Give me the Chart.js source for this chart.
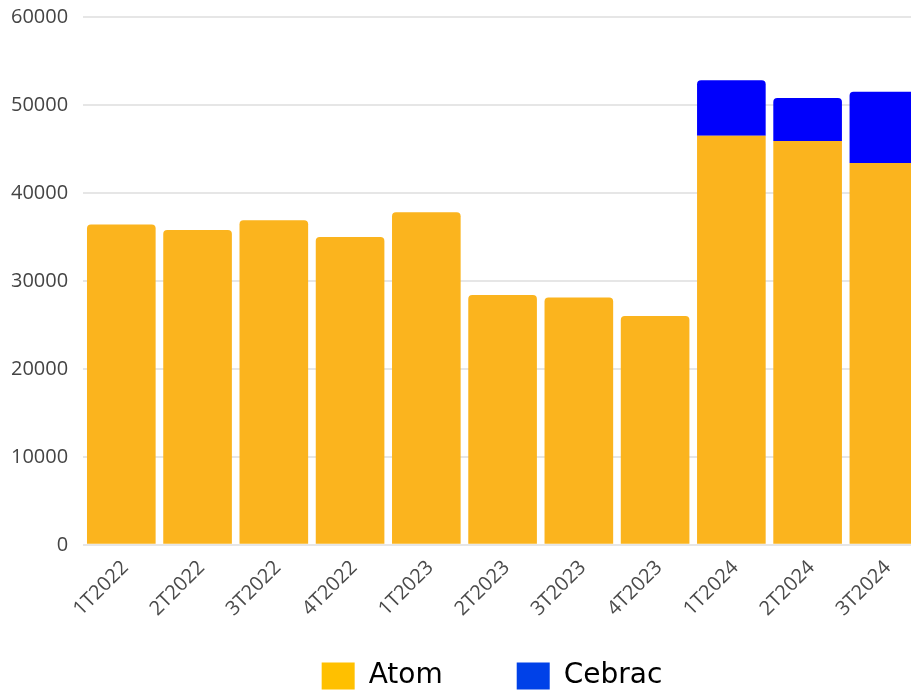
<!DOCTYPE html>
<html>
<head>
<meta charset="utf-8">
<script src="https://cdn.jsdelivr.net/npm/chart.js@4/dist/chart.umd.min.js"></script>
<style>
  html, body { margin: 0; padding: 0; background: #fff; overflow: hidden; }
  #wrap { width: 922px; height: 736px; }
</style>
</head>
<body>
<div id="wrap"><canvas id="chart" width="922" height="736"></canvas></div>
<script>
const quarters = ['1T2022', '2T2022', '3T2022', '4T2022', '1T2023', '2T2023', '3T2023', '4T2023', '1T2024', '2T2024', '3T2024'];
const atomValues = [36400, 35800, 36900, 35000, 37800, 28400, 28100, 26000, 46500, 45900, 43400];
const cebracValues = [null, null, null, null, null, null, null, null, 6300, 4900, 8100];
const yTicks = [0, 10000, 20000, 30000, 40000, 50000, 60000];

const barColors = ['#fbb41e', '#0000fc'];
const legendColors = ['#ffc000', '#0041e8'];

// the legend in the picture sits a bit right of the plot centre, under the x labels
const legendPlacement = {
    id: 'legendPlacement',
    afterLayout(chart) {
        const l = chart.legend;
        const dx = 492 - (l.left + l.right) / 2;
        const dy = 588 - l.top;
        l.left += dx; l.right += dx;
        l.top += dy; l.bottom += dy;
    }
};

document.addEventListener("DOMContentLoaded", function() {
    const ctx = document.getElementById('chart').getContext('2d');

    new Chart(ctx, {
        type: 'bar',
        data: {
            labels: quarters,
            datasets: [{
                label: 'Atom',
                data: atomValues,
                backgroundColor: barColors[0],
                borderRadius: 4,
                barPercentage: 0.9,
                categoryPercentage: 1
            }, {
                label: 'Cebrac',
                data: cebracValues,
                backgroundColor: barColors[1],
                borderRadius: 4,
                barPercentage: 0.9,
                categoryPercentage: 1
            }]
        },
        plugins: [legendPlacement],
        options: {
            responsive: false,
            animation: false,
            devicePixelRatio: 1,
            layout: { padding: { left: -4, top: 17, right: 0, bottom: 0 } },
            plugins: {
                tooltip: { enabled: false },
                legend: {
                    position: 'bottom',
                    labels: {
                        boxWidth: 33,
                        boxHeight: 27,
                        padding: 74,
                        color: '#111',
                        font: { family: 'DejaVu Sans', size: 28 },
                        generateLabels: chart => chart.data.datasets.map((ds, i) => ({
                            text: ds.label,
                            fillStyle: legendColors[i],
                            strokeStyle: legendColors[i],
                            lineWidth: 0,
                            hidden: false,
                            datasetIndex: i
                        }))
                    }
                }
            },
            scales: {
                x: {
                    stacked: true,
                    grid: { display: false },
                    border: { display: false },
                    ticks: {
                        color: '#4a4a4a',
                        font: { family: 'Open Sans', size: 20 },
                        minRotation: 45,
                        maxRotation: 45,
                        padding: 3,
                        labelOffset: 4
                    },
                    afterFit: s => { s.paddingLeft = 0; s.paddingRight = 0; }
                },
                y: {
                    stacked: true,
                    min: yTicks[0],
                    max: yTicks[yTicks.length - 1],
                    afterBuildTicks: scale => { scale.ticks = yTicks.map(v => ({ value: v })); },
                    grid: { color: '#e6e6e6', lineWidth: 2, drawTicks: false },
                    border: { display: false },
                    ticks: {
                        color: '#444',
                        font: { family: 'Open Sans', size: 20 },
                        padding: 15,
                        callback: v => String(v)
                    },
                    afterFit: s => { s.paddingTop = 0; s.paddingBottom = 0; }
                }
            }
        }
    });
});
</script>
</body>
</html>
